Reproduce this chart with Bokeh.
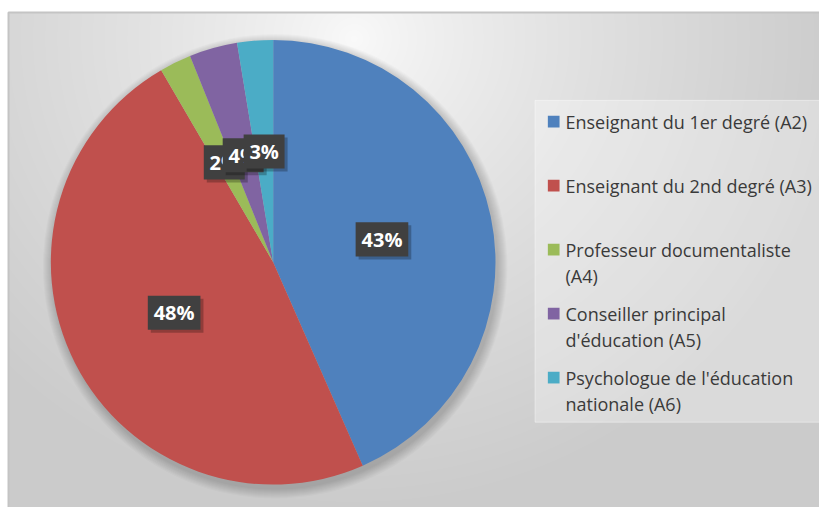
import numpy as np
from bokeh.plotting import figure
from bokeh.models import Range1d
from bokeh.core.properties import value
from bokeh.embed import file_html
from bokeh.resources import INLINE

# ---------------- data ----------------
categories = ["A2", "A3", "A4", "A5", "A6"]
legend_labels = [
    "Enseignant du 1er degré (A2)",
    "Enseignant du 2nd degré (A3)",
    "Professeur documentaliste\n(A4)",
    "Conseiller principal\nd'éducation (A5)",
    "Psychologue de l'éducation\nnationale (A6)",
]
shares = [43.4, 48.2, 2.3, 3.5, 2.6]
pct_labels = ["43%", "48%", "2%", "4%", "3%"]
colors = ["#4F81BD", "#C0504D", "#9BBB59", "#8064A2", "#4BACC6"]

# ---------------- layout (pixels) ----------------
W, H = 819, 507
SX, SY = W / 835.0, H / 523.0
S = (SX + SY) / 2
def X(ix):  # reference x -> data x
    return ix * SX
def Y(iy):  # reference y -> data y
    return H - iy * SY

cx, cy, R = X(278), Y(270), 228 * S
FONT = value("Open Sans")

p = figure(width=W, height=H, output_backend="svg", toolbar_location=None,
           x_range=Range1d(0, W), y_range=Range1d(0, H),
           x_axis_type=None, y_axis_type=None, min_border=0,
           background_fill_color="white", border_fill_color="white")
p.outline_line_color = None
p.grid.visible = False

# background radial gradient of the chart area
bx0, by0 = int(X(9)), 0
bw, bh = W - bx0, int(Y(12))
yy, xx = np.mgrid[0:bh, 0:bw]
gx, gy = X(360) - bx0, Y(40) - by0
d = np.sqrt((xx - gx) ** 2 + ((yy - gy) * 1.05) ** 2) / 500.0
t = np.clip(d, 0, 1) ** 0.8
g = (250 - 47 * t).astype(np.uint32)
img = (255 << 24) | (g << 16) | (g << 8) | g
p.image_rgba(image=[img.astype(np.uint32)], x=bx0, y=by0, dw=bw, dh=bh)
p.quad(left=[bx0], right=[W + 20], top=[bh], bottom=[-20],
       fill_color=None, line_color="#C4C4C4", line_width=2)

# legend background panel
p.quad(left=[X(545)], right=[W + 5], top=[Y(103)], bottom=[Y(435)],
       fill_color="white", fill_alpha=0.3, line_color="white", line_alpha=0.4)

# soft shadow under pie
for k in range(1, 11):
    p.circle(x=[cx + 2], y=[cy - 4], radius=R + k, fill_color="black",
             fill_alpha=0.018, line_color=None)

# pie wedges
vals = np.array(shares, dtype=float)
frac = vals / vals.sum()
cum = np.concatenate([[0], np.cumsum(frac)])
start = np.pi / 2 - 2 * np.pi * cum[:-1]
end = np.pi / 2 - 2 * np.pi * cum[1:]
p.wedge(x=cx, y=cy, radius=R, start_angle=list(start), end_angle=list(end),
        direction="clock", fill_color=colors, line_color=None)

# data labels (drawn one by one so later ones overlap earlier ones)
mid = (start + end) / 2
lr = 0.5 * R
for i, lab in enumerate(pct_labels):
    lx = cx + lr * np.cos(mid[i])
    ly = cy + lr * np.sin(mid[i])
    w = (18 + 12 * len(lab)) * S
    h = 35 * S
    p.rect(x=[lx + 3], y=[ly - 3], width=w, height=h, fill_color="black",
           fill_alpha=0.25, line_color=None)
    p.rect(x=[lx], y=[ly], width=w, height=h, fill_color="#404040",
           line_color=None)
    p.text(x=[lx], y=[ly], text=[lab], text_font=FONT, text_font_style="bold",
           text_font_size="20px", text_color="white", text_align="center",
           text_baseline="middle")

# legend
for i, lab in enumerate(legend_labels):
    ey = Y(125 + 66 * i)
    p.rect(x=[X(564)], y=[ey], width=12 * S, height=12 * S, fill_color=colors[i],
           line_color=None)
    for k, line in enumerate(lab.split("\n")):
        p.text(x=[X(576)], y=[ey - 27 * SY * k], text=[line], text_font=FONT,
               text_font_size="18px", text_color="#3A3A3A",
               text_align="left", text_baseline="middle")

open("out.html", "w").write(file_html(p, INLINE))
